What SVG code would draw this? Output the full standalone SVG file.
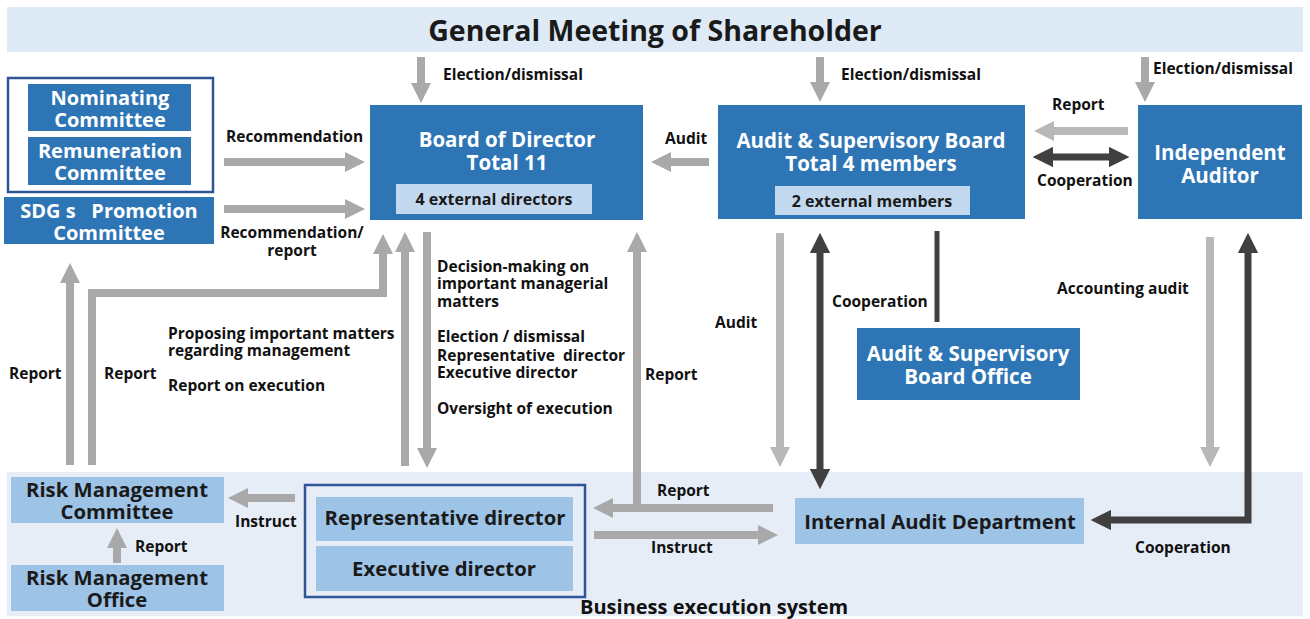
<svg xmlns="http://www.w3.org/2000/svg" width="1310" height="619" viewBox="0 0 1310 619">
<defs>
<style>
text{font-family:"Open Sans","Noto Sans","DejaVu Sans",sans-serif;font-weight:bold}
.lbl{font-size:15.5px;fill:#111}
.wt{font-size:20.5px;fill:#fff;text-anchor:middle}
.dk{font-size:20.3px;fill:#1a1a1a;text-anchor:middle}
.sub{font-size:16px;fill:#1a1a1a;text-anchor:middle}
.blue{fill:#2E75B6}
.lt{fill:#9DC3E6}
.inner{fill:#C2D8EF}
.frame{fill:none;stroke:#2F5597;stroke-width:2.5}
.g{fill:none;stroke:#A9A9A9;stroke-width:8;marker-end:url(#ag)}
.g2{fill:none;stroke:#B8B8B8;stroke-width:8;marker-end:url(#ag2)}
.d{fill:none;stroke:#404040;stroke-width:7;marker-end:url(#ad);marker-start:url(#ad)}
</style>
<marker id="ag" viewBox="0 0 10 10" refX="0.5" refY="5" markerWidth="2.5" markerHeight="2.5" orient="auto-start-reverse" markerUnits="strokeWidth"><path d="M0,0 L10,5 L0,10 z" fill="#A9A9A9"/></marker>
<marker id="ag2" viewBox="0 0 10 10" refX="0.5" refY="5" markerWidth="2.5" markerHeight="2.5" orient="auto-start-reverse" markerUnits="strokeWidth"><path d="M0,0 L10,5 L0,10 z" fill="#B8B8B8"/></marker>
<marker id="ad" viewBox="0 0 10 10" refX="0.5" refY="5" markerWidth="2.9" markerHeight="2.9" orient="auto-start-reverse" markerUnits="strokeWidth"><path d="M0,0 L10,5 L0,10 z" fill="#404040"/></marker>
</defs>
<rect width="1310" height="619" fill="#fff"/>

<g id="gms">
<rect x="7" y="7" width="1296" height="45" fill="#DEEBF7"/>
<text x="655" y="41" style="font-size:28.5px;fill:#1a1a1a;text-anchor:middle">General Meeting of Shareholder</text>
</g>

<g id="business-execution-system">
<rect x="7" y="472" width="1296" height="144" fill="#E7EDF7"/>
<text x="580" y="614" style="font-size:20px;fill:#111">Business execution system</text>
</g>

<g id="committee-frame"><rect x="8" y="78" width="205" height="114" class="frame"/></g>
<g id="nominating">
<rect x="28" y="84" width="163" height="47" class="blue"/>
<text class="wt" x="110" y="105" style="font-size:20px">Nominating</text>
<text class="wt" x="110" y="127" style="font-size:20px">Committee</text>
</g>
<g id="remuneration">
<rect x="28" y="137" width="163" height="48" class="blue"/>
<text class="wt" x="110" y="158" style="font-size:20px">Remuneration</text>
<text class="wt" x="110" y="180" style="font-size:20px">Committee</text>
</g>
<g id="sdgs">
<rect x="4" y="197" width="210" height="47" class="blue"/>
<text class="wt" x="109" y="218" style="font-size:20px" xml:space="preserve">SDG s   Promotion</text>
<text class="wt" x="109" y="240" style="font-size:20px">Committee</text>
</g>

<g id="board">
<rect x="370" y="105" width="273" height="115" class="blue"/>
<text class="wt" x="507" y="147">Board of Director</text>
<text class="wt" x="507" y="170">Total 11</text>
<rect x="396" y="184" width="196" height="30" class="inner"/>
<text class="sub" x="494" y="205">4 external directors</text>
</g>

<g id="asb">
<rect x="718" y="105" width="307" height="114" class="blue"/>
<text class="wt" x="871" y="148">Audit &amp; Supervisory Board</text>
<text class="wt" x="871" y="171">Total 4 members</text>
<rect x="775" y="186" width="195" height="29" class="inner"/>
<text class="sub" x="872" y="207">2 external members</text>
</g>

<g id="independent-auditor">
<rect x="1138" y="105" width="164" height="114" class="blue"/>
<text class="wt" x="1220" y="160">Independent</text>
<text class="wt" x="1220" y="183">Auditor</text>
</g>

<g id="asb-office">
<rect x="857" y="328" width="223" height="72" class="blue"/>
<text class="wt" x="968" y="361">Audit &amp; Supervisory</text>
<text class="wt" x="968" y="384">Board Office</text>
</g>

<g id="risk-committee">
<rect x="11" y="477" width="213" height="46" class="lt"/>
<text class="dk" x="117" y="497">Risk Management</text>
<text class="dk" x="117" y="519">Committee</text>
</g>
<g id="risk-office">
<rect x="11" y="565" width="213" height="46" class="lt"/>
<text class="dk" x="117" y="585">Risk Management</text>
<text class="dk" x="117" y="607">Office</text>
</g>

<g id="directors-frame"><rect x="305" y="485" width="280" height="112" class="frame"/></g>
<g id="representative-director">
<rect x="316" y="497" width="257" height="44" class="lt"/>
<text class="dk" x="445" y="525">Representative director</text>
</g>
<g id="executive-director">
<rect x="316" y="546" width="257" height="45" class="lt"/>
<text class="dk" x="444" y="576">Executive director</text>
</g>

<g id="internal-audit">
<rect x="795" y="498" width="289" height="46" class="lt"/>
<text class="dk" x="940" y="529">Internal Audit Department</text>
</g>

<g id="connectors">
<path class="g" d="M421,57 V84"/>
<path class="g" d="M820,57 V83"/>
<path class="g" d="M1145,57 V83"/>
<path class="g" d="M224,162 H346"/>
<path class="g" d="M224,209 H346"/>
<path class="g" d="M709,162 H670"/>
<path class="g2" d="M1128,131 H1053"/>
<path class="d" d="M1052,157 H1110"/>
<path class="g" d="M70,465 V282"/>
<path class="g" d="M92,465 V293 H383 V253"/>
<path class="g" d="M405,466 V251"/>
<path class="g" d="M427,232 V449"/>
<path class="g" d="M773,508 H612"/>
<path class="g" d="M637,508 V251"/>
<path class="g" d="M594,535 H759"/>
<path class="g2" d="M780,233 V448"/>
<path class="d" d="M820,252 V470"/>
<path d="M937,231 V322" fill="none" stroke="#404040" stroke-width="5"/>
<path class="g2" d="M1210,237 V448"/>
<path class="d" d="M1110,520 H1248 V252"/>
<path class="g" d="M295,498 H247"/>
<path class="g" d="M117,563 V547"/>
</g>

<g id="labels">
<text class="lbl" x="443" y="80">Election/dismissal</text>
<text class="lbl" x="841" y="80">Election/dismissal</text>
<text class="lbl" x="1153" y="74">Election/dismissal</text>
<text class="lbl" x="226" y="142">Recommendation</text>
<text class="lbl" x="292" y="238" text-anchor="middle">Recommendation/</text>
<text class="lbl" x="292" y="256" text-anchor="middle">report</text>
<text class="lbl" x="665" y="144">Audit</text>
<text class="lbl" x="1052" y="110">Report</text>
<text class="lbl" x="1037" y="186">Cooperation</text>
<text class="lbl" x="9" y="379">Report</text>
<text class="lbl" x="104" y="379">Report</text>
<text class="lbl" x="168" y="339">Proposing important matters</text>
<text class="lbl" x="168" y="356">regarding management</text>
<text class="lbl" x="168" y="391">Report on execution</text>
<text class="lbl" x="437" y="272">Decision-making on</text>
<text class="lbl" x="437" y="289">important managerial</text>
<text class="lbl" x="437" y="307">matters</text>
<text class="lbl" x="437" y="342">Election / dismissal</text>
<text class="lbl" x="437" y="361" xml:space="preserve">Representative  director</text>
<text class="lbl" x="437" y="378">Executive director</text>
<text class="lbl" x="437" y="414">Oversight of execution</text>
<text class="lbl" x="715" y="328">Audit</text>
<text class="lbl" x="645" y="380">Report</text>
<text class="lbl" x="832" y="307">Cooperation</text>
<text class="lbl" x="1057" y="294">Accounting audit</text>
<text class="lbl" x="657" y="496">Report</text>
<text class="lbl" x="651" y="553">Instruct</text>
<text class="lbl" x="1135" y="553">Cooperation</text>
<text class="lbl" x="235" y="527">Instruct</text>
<text class="lbl" x="135" y="552">Report</text>
</g>
</svg>
